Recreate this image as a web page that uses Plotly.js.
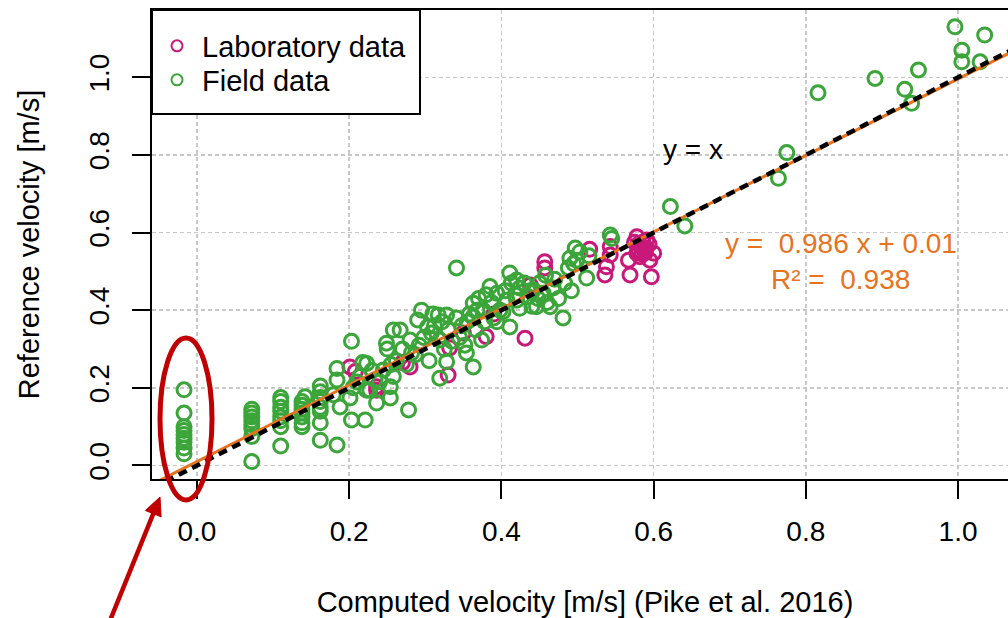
<!DOCTYPE html>
<html><head><meta charset="utf-8">
<script src="https://cdn.plot.ly/plotly-3.0.1.min.js"></script>
<style>html,body{margin:0;padding:0;overflow:hidden;background:#fff}#chart{width:1018px;height:618px}</style>
</head><body><div id="chart"></div><script>
// ---- data ----
const fieldX = [
 -0.017,-0.017,-0.017,-0.017,-0.017,-0.017,-0.017,-0.017,-0.017,
 0.072,0.072,0.072,0.072,0.072,0.072,0.072,0.072,
 0.11,0.11,0.11,0.11,0.11,0.11,0.11,0.11,
 0.138,0.138,0.138,0.138,0.138,0.138,0.138,
 0.162,0.162,0.162,0.162,0.162,0.162,0.162,0.162,
 0.142,0.179,0.184,0.184,0.188,0.184,0.201,0.203,0.203,0.205,
 0.21,0.214,0.218,0.221,0.223,0.223,0.227,0.23,0.234,0.236,
 0.24,0.245,0.249,0.25,0.254,0.254,0.255,0.258,0.258,0.262,
 0.267,0.27,0.275,0.278,0.28,0.282,0.287,0.29,0.292,0.295,
 0.298,0.303,0.305,0.308,0.31,0.312,0.317,0.319,0.319,0.322,
 0.325,0.328,0.328,0.33,0.335,0.341,0.341,0.345,0.348,0.352,
 0.354,0.355,0.358,0.363,0.363,0.363,0.366,0.368,0.37,0.374,
 0.376,0.378,0.38,0.385,0.387,0.39,0.394,0.394,0.398,0.402,
 0.405,0.407,0.411,0.411,0.413,0.418,0.42,0.42,0.424,0.424,
 0.43,0.435,0.438,0.44,0.442,0.446,0.448,0.45,0.455,0.458,
 0.46,0.464,0.468,0.47,0.475,0.481,0.483,0.488,0.49,0.492,
 0.495,0.497,0.499,0.503,0.512,0.515,0.543,0.545,0.622,0.641,
 0.764,0.775,0.816,0.891,0.93,0.939,0.948,0.996,1.005,1.005,
 1.029,1.035
];
const fieldY = [
 0.195,0.135,0.10,0.09,0.08,0.07,0.06,0.045,0.03,
 0.145,0.135,0.125,0.115,0.105,0.095,0.075,0.01,
 0.175,0.165,0.15,0.14,0.125,0.115,0.10,0.05,
 0.165,0.155,0.145,0.135,0.125,0.11,0.10,
 0.205,0.19,0.175,0.165,0.15,0.14,0.11,0.065,
 0.177,0.182,0.25,0.22,0.151,0.053,0.174,0.32,0.117,0.2,
 0.215,0.229,0.265,0.117,0.194,0.263,0.194,0.245,0.22,0.161,
 0.216,0.246,0.315,0.3,0.174,0.203,0.26,0.229,0.349,0.27,
 0.349,0.3,0.26,0.143,0.323,0.29,0.285,0.375,0.31,0.4,
 0.33,0.357,0.27,0.341,0.39,0.36,0.388,0.225,0.323,0.37,
 0.3,0.388,0.267,0.35,0.32,0.38,0.509,0.33,0.36,0.31,
 0.29,0.37,0.39,0.254,0.418,0.383,0.35,0.4,0.43,0.323,
 0.4,0.37,0.44,0.461,0.42,0.38,0.444,0.37,0.4,0.396,
 0.45,0.426,0.496,0.357,0.47,0.44,0.478,0.426,0.457,0.405,
 0.47,0.435,0.45,0.41,0.452,0.409,0.43,0.47,0.444,0.49,
 0.42,0.409,0.457,0.48,0.43,0.38,0.47,0.509,0.534,0.45,
 0.52,0.56,0.529,0.55,0.483,0.54,0.594,0.585,0.667,0.617,
 0.74,0.806,0.96,0.997,0.969,0.933,1.019,1.13,1.07,1.04,
 1.04,1.109
];
const labX = [
 0.201,0.208,0.236,0.236,0.28,0.27,0.33,0.332,0.35,0.38,
 0.39,0.431,0.438,0.457,0.457,0.516,0.536,0.538,0.543,0.543,
 0.567,0.569,0.575,0.578,0.578,0.58,0.58,0.584,0.585,0.586,
 0.588,0.59,0.591,0.594,0.595,0.597,0.6,0.582,0.589
];
const labY = [
 0.254,0.242,0.194,0.203,0.254,0.265,0.233,0.303,0.341,0.332,
 0.39,0.328,0.465,0.525,0.509,0.557,0.491,0.512,0.564,0.542,
 0.529,0.491,0.575,0.547,0.589,0.57,0.555,0.564,0.545,0.575,
 0.555,0.56,0.581,0.57,0.529,0.486,0.547,0.538,0.548
];
const tickVals = [0, 0.2, 0.4, 0.6, 0.8, 1.0];
const tickText = ['0.0', '0.2', '0.4', '0.6', '0.8', '1.0'];
const fitSlope = 0.986, fitIntercept = 0.01, fitR2 = 0.938;
const seriesNames = ['Laboratory data', 'Field data'];
const xTitle = 'Computed velocity [m/s] (Pike et al. 2016)';
const yTitle = 'Reference velocity [m/s]';

// ---- styling ----
const FONT = 'Liberation Sans, Arial, Helvetica, sans-serif';
const GREEN = '#3BA53A', MAGENTA = '#C8197A', ORANGE = '#E8731F', RED = '#C00000';
const xRange = [-0.0591, 1.0788], yRange = [-0.0348, 1.1734];
const M = {l: 152, r: 0, t: 10, b: 139};
const FW = 1018, FH = 618;
const PW = FW - M.l - M.r, PH = FH - M.t - M.b;
const pxX = p => (p - M.l) / PW;           // pixel -> paper (decorations only)
const pxY = p => (M.t + PH - p) / PH;

const marker = c => ({symbol: 'circle-open', size: 14, color: c, line: {color: c, width: 3}});
const legMarker = c => ({symbol: 'circle-open', size: 11, color: c, line: {color: c, width: 2}});

const traces = [
  {type: 'scatter', mode: 'markers', x: labX, y: labY, marker: marker(MAGENTA), showlegend: false, hoverinfo: 'x+y'},
  {type: 'scatter', mode: 'markers', x: fieldX, y: fieldY, marker: marker(GREEN), showlegend: false, hoverinfo: 'x+y'},
  {type: 'scatter', mode: 'lines', x: xRange, y: xRange.map(v => fitSlope * v + fitIntercept),
   line: {color: ORANGE, width: 3}, showlegend: false, hoverinfo: 'skip'},
  {type: 'scatter', mode: 'lines', x: xRange, y: xRange.slice(),
   line: {color: '#000', width: 4.5, dash: '9px,6px'}, showlegend: false, hoverinfo: 'skip'},
  {type: 'scatter', mode: 'markers', x: [null], y: [null], name: seriesNames[0], marker: legMarker(MAGENTA), legend: 'legend'},
  {type: 'scatter', mode: 'markers', x: [null], y: [null], name: seriesNames[1], marker: legMarker(GREEN), legend: 'legend2'}
];

// arrow geometry (decoration)
const tip = [160, 497], tail = [107, 628];
const dx = tip[0] - tail[0], dy = tip[1] - tail[1], len = Math.hypot(dx, dy);
const ux = dx / len, uy = dy / len, hl = 18, hw = 8.5;
const bx = tip[0] - hl * ux, by = tip[1] - hl * uy;
const c1 = [bx - hw * uy, by + hw * ux], c2 = [bx + hw * uy, by - hw * ux];

const axisCommon = {
  tickvals: tickVals, ticktext: tickText, ticks: 'outside', ticklen: 18, tickwidth: 2, tickcolor: '#000',
  showline: true, linecolor: '#000', linewidth: 2, mirror: true,
  showgrid: true, gridcolor: '#C8C8C8', gridwidth: 1.5, griddash: '4px,3px',
  zeroline: false, tickfont: {family: FONT, size: 28, color: '#000'}, automargin: false
};
const legendCommon = {xanchor: 'left', yanchor: 'middle', bgcolor: 'rgba(0,0,0,0)', borderwidth: 0,
  font: {family: FONT, size: 29, color: '#000'}, itemwidth: 40, indentation: 0};

const layout = {
  width: FW, height: FH, margin: M, paper_bgcolor: '#fff', plot_bgcolor: '#fff',
  font: {family: FONT, color: '#000'},
  xaxis: Object.assign({}, axisCommon, {range: xRange,
    title: {text: xTitle, font: {family: FONT, size: 29}, standoff: 48}, ticklabelstandoff: 8}),
  yaxis: Object.assign({}, axisCommon, {range: yRange, tickangle: -90,
    title: {text: yTitle, font: {family: FONT, size: 29}, standoff: 36}, ticklabelstandoff: 12}),
  legend: Object.assign({x: 0, y: pxY(46)}, legendCommon),
  legend2: Object.assign({x: 0, y: pxY(80)}, legendCommon),
  annotations: [
    {xref: 'x', yref: 'y', x: 0.652, y: 0.815, text: 'y = x', showarrow: false,
     font: {family: FONT, size: 28, color: '#000'}},
    {xref: 'x', yref: 'y', x: 0.846, y: 0.571, text: 'y =\u00A0 ' + fitSlope.toFixed(3) + ' x + ' + fitIntercept.toFixed(2),
     showarrow: false, font: {family: FONT, size: 28, color: ORANGE}},
    {xref: 'x', yref: 'y', x: 0.846, y: 0.480, text: 'R\u00B2 =\u00A0 ' + fitR2.toFixed(3),
     showarrow: false, font: {family: FONT, size: 28, color: ORANGE}}
  ],
  shapes: [
    {type: 'rect', xref: 'paper', yref: 'paper', x0: pxX(152), x1: pxX(420), y0: pxY(114), y1: pxY(10),
     fillcolor: '#fff', line: {color: '#000', width: 2}, layer: 'above'},
    {type: 'circle', xref: 'paper', yref: 'paper', x0: pxX(160), x1: pxX(212), y0: pxY(500), y1: pxY(338),
     line: {color: RED, width: 5}, layer: 'above'},
    {type: 'line', xref: 'paper', yref: 'paper', x0: pxX(tail[0]), y0: pxY(tail[1]), x1: pxX(bx + 2 * ux), y1: pxY(by + 2 * uy),
     line: {color: RED, width: 4.5}},
    {type: 'path', xref: 'paper', yref: 'paper',
     path: `M${pxX(tip[0])},${pxY(tip[1])} L${pxX(c1[0])},${pxY(c1[1])} L${pxX(c2[0])},${pxY(c2[1])} Z`,
     fillcolor: RED, line: {color: RED, width: 1}}
  ],
  hovermode: 'closest'
};

Plotly.newPlot('chart', traces, layout, {displayModeBar: false, staticPlot: true});
</script></body></html>
